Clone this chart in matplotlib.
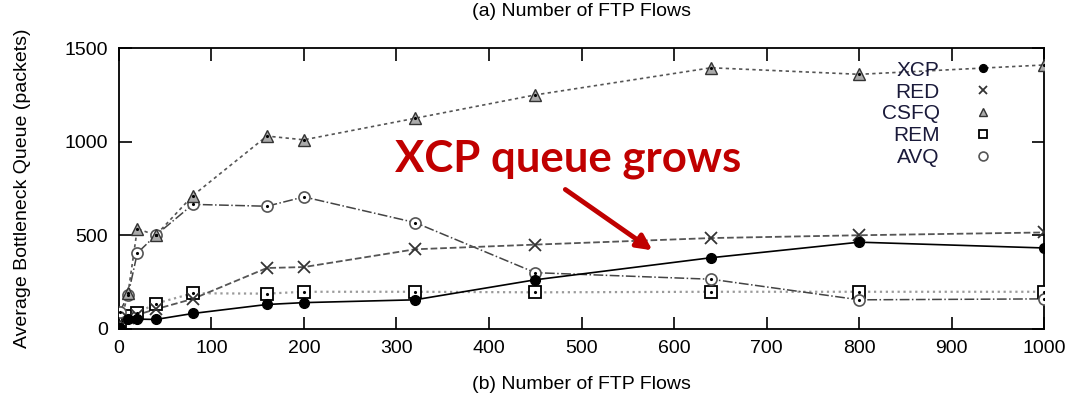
import numpy as np
import matplotlib.pyplot as plt

flows = [1, 10, 20, 40, 80, 160, 200, 320, 450, 640, 800, 1000]
xcp = [5, 50, 52, 50, 82, 130, 140, 155, 262, 380, 463, 432]
red = [10, 60, 75, 105, 160, 325, 330, 425, 450, 485, 500, 515]
csfq = [15, 190, 535, 500, 712, 1030, 1010, 1125, 1250, 1395, 1360, 1410]
rem = [0, 70, 85, 135, 190, 188, 198, 198, 195, 198, 198, 198]
avq = [90, 180, 405, 500, 665, 655, 705, 568, 300, 265, 155, 160]

plt.rcParams['font.family'] = ['Liberation Sans', 'DejaVu Sans']

fig = plt.figure(figsize=(10.8, 4.01), dpi=100)
ax = fig.add_axes([0.110, 0.180, 0.857, 0.700])

ax.plot(flows, rem, linestyle=':', color='#9a9a9a', lw=1.6, zorder=2)
ax.plot(flows, rem, linestyle='none', marker='s', ms=8, mfc='white', mec='black', mew=1.3,
        label='REM', zorder=4)
ax.plot(flows, avq, linestyle='-.', color='#444444', lw=1.1, zorder=2)
ax.plot(flows, avq, linestyle='none', marker='o', ms=8, mfc='white', mec='#555555', mew=1.2,
        label='AVQ', zorder=4)
ax.plot(flows, red, linestyle='--', color='#555555', lw=1.3, zorder=2)
ax.plot(flows, red, linestyle='none', marker='x', ms=8, color='#333333', mew=1.3,
        label='RED', zorder=4)
ax.plot(flows, csfq, linestyle=(0, (2, 2)), color='#555555', lw=1.2, zorder=2)
ax.plot(flows, csfq, linestyle='none', marker='^', ms=8, mfc='#aaaaaa', mec='#333333', mew=1.0,
        label='CSFQ', zorder=4)
ax.plot(flows, xcp, linestyle='-', color='black', lw=1.2, zorder=3)
ax.plot(flows, xcp, linestyle='none', marker='o', ms=7, color='black', label='XCP', zorder=5)
# center dots of gnuplot style markers
for ys in (rem, avq, csfq):
    ax.plot(flows, ys, linestyle='none', marker='.', ms=2.5, color='black', zorder=6)

ax.set_xlim(0, 1000)
ax.set_ylim(0, 1500)
ax.set_xticks(np.arange(0, 1001, 100))
ax.set_yticks([0, 500, 1000, 1500])
ax.tick_params(direction='in', length=9, width=1.2, top=True, right=True, labelsize=14, pad=8)
for s in ax.spines.values():
    s.set_linewidth(1.3)

ax.set_xlabel('(b) Number of FTP Flows', fontsize=14, labelpad=14)
ax.set_ylabel('Average Bottleneck Queue (packets)', fontsize=14, labelpad=24)
ax.set_title('(a) Number of FTP Flows', fontsize=14, pad=23)

handles, labels = ax.get_legend_handles_labels()
order = ['XCP', 'RED', 'CSFQ', 'REM', 'AVQ']
hmap = dict(zip(labels, handles))
leg = ax.legend([hmap[k] for k in order], order, loc='upper right', frameon=False,
                markerfirst=False, fontsize=15, labelspacing=0.14, handlelength=1.0,
                handletextpad=1.6, borderaxespad=0.2, bbox_to_anchor=(0.959, 1.0),
                markerscale=0.8)
for t in leg.get_texts():
    t.set_ha('right')
    t.set_color('#1a1a3a')

ax.text(298, 908, 'XCP queue grows', fontsize=31.5, fontweight='bold', color='#c00000',
        family=['Lato', 'DejaVu Sans'], va='center', ha='left', zorder=7)
ax.annotate('', xy=(579, 411), xytext=(480, 753),
            arrowprops=dict(arrowstyle='-|>,head_length=0.9,head_width=0.45', color='#c00000',
                            lw=3.5), zorder=7)

fig.savefig('out.png', dpi=100)
